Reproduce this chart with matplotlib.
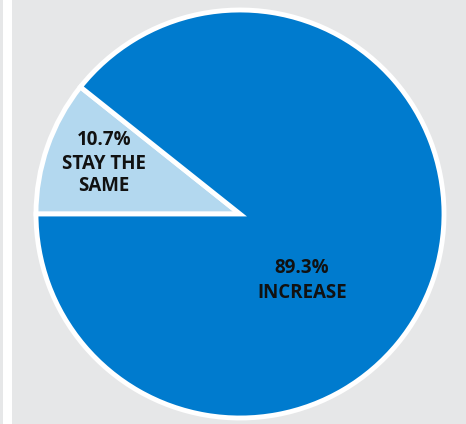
import matplotlib.pyplot as plt
from matplotlib.patches import Rectangle

labels = ["STAY THE\nSAME", "INCREASE"]
shares = [10.7, 89.3]
colors = ['#b3d8ef', '#007bce']

fig = plt.figure(figsize=(4.66, 4.24), dpi=100, facecolor='#e6e7e8')
# white strip on the left edge
fig.patches.append(Rectangle((3 / 466, 0), 9 / 466, 1, transform=fig.transFigure,
                             facecolor='white', edgecolor='none'))

ax = fig.add_axes([0, 0, 1, 1])
ax.set_facecolor('none')
start = 180 - shares[0] * 3.6
wedges, _ = ax.pie(shares, colors=colors, startangle=start, counterclock=True,
                   center=(240, -214), radius=204,
                   wedgeprops=dict(edgecolor='white', linewidth=3.5))
ax.set_xlim(0, 466)
ax.set_ylim(-424, 0)
ax.set_aspect('equal')
ax.axis('off')

font = dict(family='Open Sans', fontweight='bold', fontsize=13.5, color='#111111',
            ha='center', va='center', linespacing=1.15)
ax.text(104, -140, f"{shares[0]}%", **font)
ax.text(104, -175, labels[0], **font)
ax.text(302, -268, f"{shares[1]}%", **font)
ax.text(302, -293, labels[1], **font)

fig.savefig('out.png', dpi=100, facecolor=fig.get_facecolor())
